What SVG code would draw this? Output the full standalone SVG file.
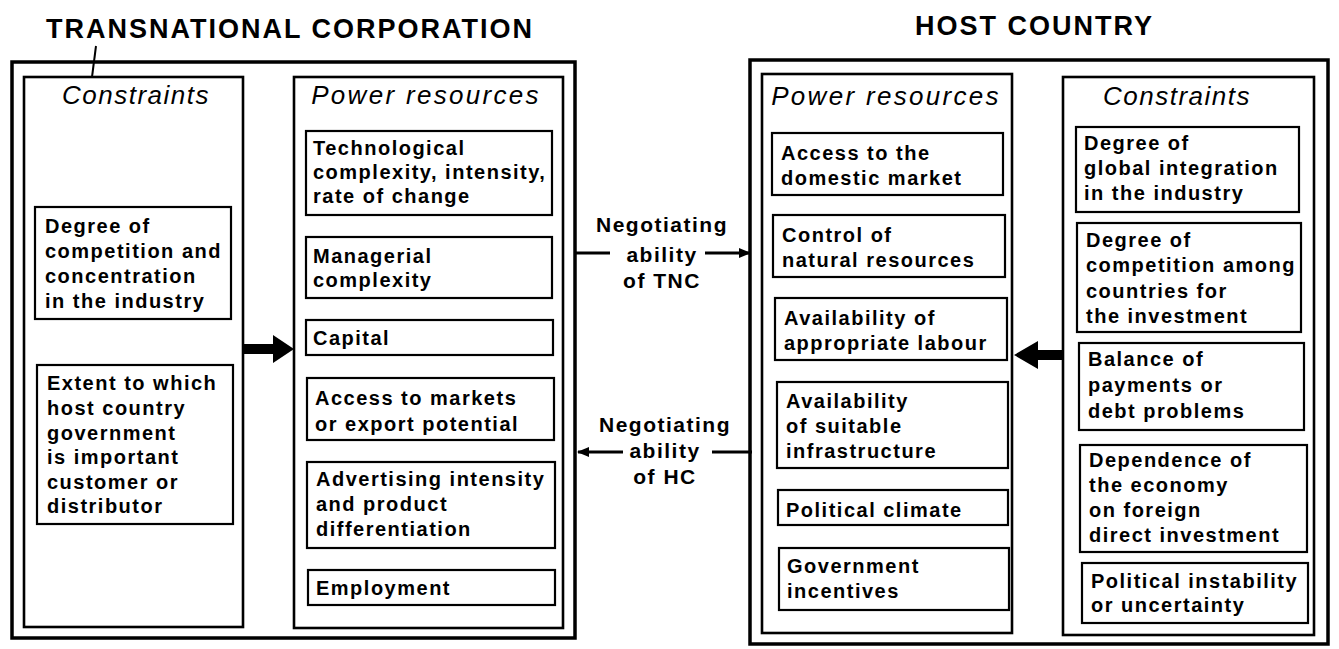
<svg xmlns="http://www.w3.org/2000/svg" width="1339" height="649" viewBox="0 0 1339 649">
  <style>
    .outer { fill: none; stroke: #000; stroke-width: 3.5; }
    .col { fill: none; stroke: #000; stroke-width: 2.6; }
    .item { fill: #fff; stroke: #000; stroke-width: 2.2; }
    .t { font-family: "Liberation Sans", Arial, sans-serif; font-weight: bold; font-size: 20px; letter-spacing: 1.5px; fill: #000; }
    .title { font-size: 27px; letter-spacing: 2px; }
    .hdr { font-style: italic; font-weight: normal; font-size: 26px; letter-spacing: 1.5px; text-anchor: middle; }
    .hdr.wide { letter-spacing: 2.3px; }
    .neg { font-size: 21px; text-anchor: middle; }
    .link { fill: none; stroke: #000; stroke-width: 3; }
    .head { fill: #000; stroke: none; }
  </style>
  <defs>
    <marker id="tip" viewBox="0 0 12 10" refX="11" refY="5" markerWidth="12" markerHeight="10" markerUnits="userSpaceOnUse" orient="auto">
      <path d="M0,0 L12,5 L0,10 Z" fill="#000"/>
    </marker>
  </defs>

  <rect x="0" y="0" width="1339" height="649" fill="#fff"/>

  <!-- Transnational corporation panel -->
  <g id="tnc">
    <text class="t title" x="46" y="38">TRANSNATIONAL CORPORATION</text>
    <line x1="96" y1="46" x2="92" y2="77" stroke="#000" stroke-width="2"/>
    <rect class="outer" x="12" y="62" width="563" height="576"/>
  </g>

  <g id="tnc-constraints">
    <rect class="col" x="24" y="77" width="219" height="550"/>
    <text class="t hdr" x="136" y="104">Constraints</text>
  </g>

  <g id="tnc-competition">
    <rect class="item" x="35" y="207" width="196" height="112"/>
    <text class="t" x="45" y="233">Degree of</text>
    <text class="t" x="45" y="258">competition and</text>
    <text class="t" x="45" y="283">concentration</text>
    <text class="t" x="45" y="308">in the industry</text>
  </g>

  <g id="tnc-customer">
    <rect class="item" x="37" y="365" width="196" height="159"/>
    <text class="t" x="47" y="390">Extent to which</text>
    <text class="t" x="47" y="415">host country</text>
    <text class="t" x="47" y="440">government</text>
    <text class="t" x="47" y="464">is important</text>
    <text class="t" x="47" y="489">customer or</text>
    <text class="t" x="47" y="513">distributor</text>
  </g>

  <g id="tnc-power">
    <rect class="col" x="294" y="77" width="269" height="551"/>
    <text class="t hdr wide" x="426" y="104">Power resources</text>
  </g>

  <g id="tnc-technology">
    <rect class="item" x="306" y="131" width="246" height="84"/>
    <text class="t" x="313" y="155">Technological</text>
    <text class="t" x="313" y="179">complexity, intensity,</text>
    <text class="t" x="313" y="203">rate of change</text>
  </g>

  <g id="tnc-managerial">
    <rect class="item" x="306" y="237" width="246" height="61"/>
    <text class="t" x="313" y="263">Managerial</text>
    <text class="t" x="313" y="287">complexity</text>
  </g>

  <g id="tnc-capital">
    <rect class="item" x="306" y="320" width="247" height="35"/>
    <text class="t" x="313" y="345">Capital</text>
  </g>

  <g id="tnc-markets">
    <rect class="item" x="307" y="378" width="247" height="62"/>
    <text class="t" x="315" y="405">Access to markets</text>
    <text class="t" x="315" y="431">or export potential</text>
  </g>

  <g id="tnc-advertising">
    <rect class="item" x="307" y="462" width="248" height="86"/>
    <text class="t" x="316" y="486">Advertising intensity</text>
    <text class="t" x="316" y="511">and product</text>
    <text class="t" x="316" y="536">differentiation</text>
  </g>

  <g id="tnc-employment">
    <rect class="item" x="308" y="570" width="247" height="35"/>
    <text class="t" x="316" y="595">Employment</text>
  </g>

  <!-- Host country panel -->
  <g id="hc">
    <text class="t title" x="915" y="35">HOST COUNTRY</text>
    <rect class="outer" x="750" y="60" width="578" height="584"/>
  </g>

  <g id="hc-power">
    <rect class="col" x="762" y="74" width="250" height="559"/>
    <text class="t hdr wide" x="886" y="105">Power resources</text>
  </g>

  <g id="hc-market">
    <rect class="item" x="772" y="133" width="231" height="62"/>
    <text class="t" x="781" y="160">Access to the</text>
    <text class="t" x="781" y="185">domestic market</text>
  </g>

  <g id="hc-natural">
    <rect class="item" x="773" y="215" width="232" height="62"/>
    <text class="t" x="782" y="242">Control of</text>
    <text class="t" x="782" y="267">natural resources</text>
  </g>

  <g id="hc-labour">
    <rect class="item" x="775" y="298" width="232" height="62"/>
    <text class="t" x="784" y="325">Availability of</text>
    <text class="t" x="784" y="350">appropriate labour</text>
  </g>

  <g id="hc-infrastructure">
    <rect class="item" x="777" y="382" width="231" height="86"/>
    <text class="t" x="786" y="408">Availability</text>
    <text class="t" x="786" y="433">of suitable</text>
    <text class="t" x="786" y="458">infrastructure</text>
  </g>

  <g id="hc-climate">
    <rect class="item" x="778" y="490" width="230" height="35"/>
    <text class="t" x="786" y="517">Political climate</text>
  </g>

  <g id="hc-incentives">
    <rect class="item" x="779" y="548" width="230" height="62"/>
    <text class="t" x="787" y="573">Government</text>
    <text class="t" x="787" y="598">incentives</text>
  </g>

  <g id="hc-constraints">
    <rect class="col" x="1063" y="77" width="251" height="558"/>
    <text class="t hdr" x="1177" y="105">Constraints</text>
  </g>

  <g id="hc-integration">
    <rect class="item" x="1076" y="127" width="223" height="85"/>
    <text class="t" x="1084" y="150">Degree of</text>
    <text class="t" x="1084" y="175">global integration</text>
    <text class="t" x="1084" y="200">in the industry</text>
  </g>

  <g id="hc-competition">
    <rect class="item" x="1077" y="223" width="224" height="109"/>
    <text class="t" x="1086" y="247">Degree of</text>
    <text class="t" x="1086" y="272">competition among</text>
    <text class="t" x="1086" y="298">countries for</text>
    <text class="t" x="1086" y="323">the investment</text>
  </g>

  <g id="hc-payments">
    <rect class="item" x="1079" y="343" width="225" height="87"/>
    <text class="t" x="1088" y="366">Balance of</text>
    <text class="t" x="1088" y="392">payments or</text>
    <text class="t" x="1088" y="418">debt problems</text>
  </g>

  <g id="hc-dependence">
    <rect class="item" x="1080" y="445" width="227" height="107"/>
    <text class="t" x="1089" y="467">Dependence of</text>
    <text class="t" x="1089" y="492">the economy</text>
    <text class="t" x="1089" y="517">on foreign</text>
    <text class="t" x="1089" y="542">direct investment</text>
  </g>

  <g id="hc-instability">
    <rect class="item" x="1082" y="563" width="226" height="60"/>
    <text class="t" x="1091" y="588">Political instability</text>
    <text class="t" x="1091" y="612">or uncertainty</text>
  </g>

  <!-- Connectors -->
  <g id="connectors">
    <!-- constraints feed power resources (TNC) -->
    <polygon class="head" points="243,344 273,344 273,335 294,349 273,363 273,354 243,354"/>
    <!-- constraints feed power resources (host country) -->
    <polygon class="head" points="1063,350 1038,350 1038,341 1014,355 1038,369 1038,360 1063,360"/>

    <!-- negotiating ability of TNC -->
    <line class="link" x1="575" y1="253" x2="610" y2="253"/>
    <line class="link" x1="705" y1="253" x2="750" y2="253" marker-end="url(#tip)"/>
    <text class="t neg" x="662" y="232">Negotiating</text>
    <text class="t neg" x="662" y="262">ability</text>
    <text class="t neg" x="662" y="288">of TNC</text>

    <!-- negotiating ability of HC -->
    <line class="link" x1="752" y1="452" x2="712" y2="452"/>
    <line class="link" x1="623" y1="452" x2="578" y2="452" marker-end="url(#tip)"/>
    <text class="t neg" x="665" y="432">Negotiating</text>
    <text class="t neg" x="665" y="458">ability</text>
    <text class="t neg" x="665" y="484">of HC</text>
  </g>
</svg>
